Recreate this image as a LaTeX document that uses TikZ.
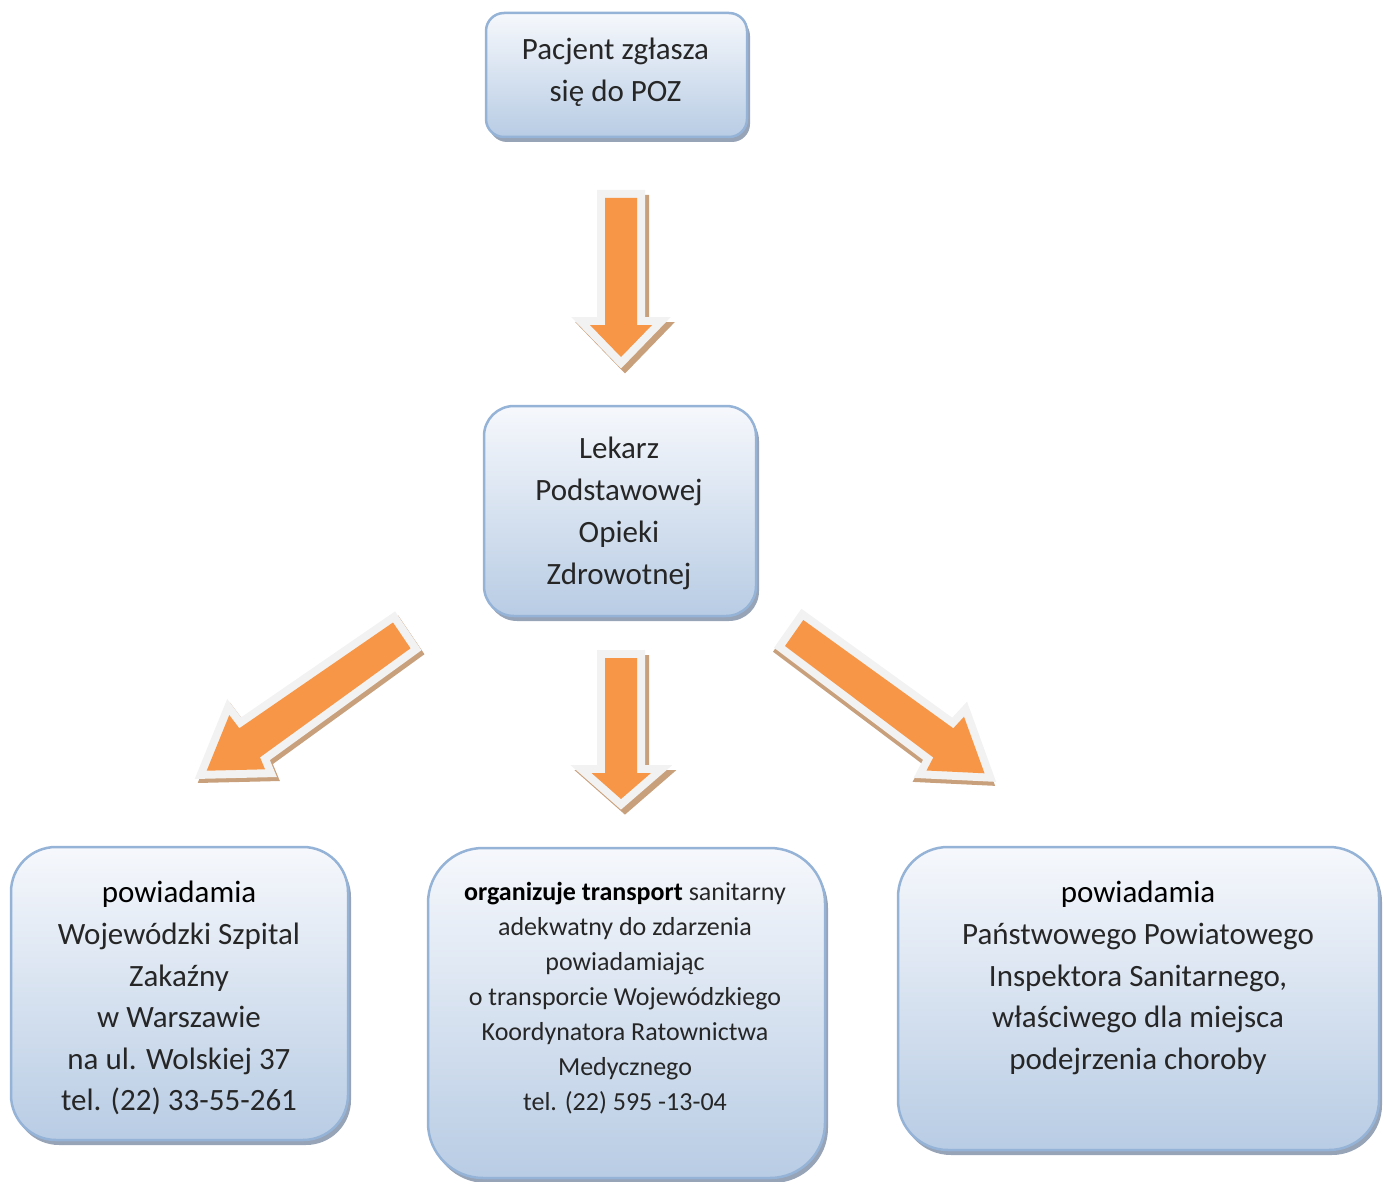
\documentclass[tikz,border=0pt]{standalone}
\usepackage{fontspec}
\setmainfont{Carlito}
\usetikzlibrary{shadows}
\definecolor{boxline}{HTML}{95B3D7}
\definecolor{boxtop}{HTML}{F6F8FC}
\definecolor{boxbot}{HTML}{B8CCE4}
\definecolor{boxshadow}{HTML}{97A3B6}
\definecolor{arrorange}{HTML}{F79646}
\definecolor{arrborder}{HTML}{F2F2F2}
\definecolor{arrshadow}{HTML}{C9A07C}
\definecolor{txtgray}{HTML}{262626}
\tikzset{
  pbox/.style={draw=boxline, line width=2.5pt, top color=boxtop, bottom color=boxbot,
    general shadow={fill=boxshadow, shadow xshift=3pt, shadow yshift=-5pt}},
  bigtxt/.style={anchor=base, inner sep=0pt, text=txtgray, font=\fontsize{31}{42}\selectfont},
  smalltxt/.style={anchor=base, inner sep=0pt, text=txtgray, font=\fontsize{26}{35}\selectfont},
}
\newcommand\blockarrow[2]{%
  \fill[arrshadow, shift={#1}] #2;
  \draw[arrshadow, line width=16pt, line join=miter, shift={#1}] #2;
  \draw[arrborder, line width=16pt, line join=miter] #2;
  \fill[arrorange] #2;}
\begin{document}
\begin{tikzpicture}[x=1pt,y=-1pt]
\useasboundingbox (0,0) rectangle (1389,1182);

% boxes
\node[pbox, rounded corners=18pt, minimum width=261pt, minimum height=124pt] (b0) at (616.5,75) {};
\node[pbox, rounded corners=30pt, minimum width=272pt, minimum height=210pt] (b1) at (620,511) {};
\node[pbox, rounded corners=45pt, minimum width=337pt, minimum height=293pt] (b2) at (179.5,993.5) {};
\node[pbox, rounded corners=55pt, minimum width=397pt, minimum height=330pt] (b3) at (626.5,1013) {};
\node[pbox, rounded corners=50pt, minimum width=481pt, minimum height=303pt] (b4) at (1138.5,998.5) {};

% arrows
\blockarrow{(4,5)}{(605,198) -- (637,198) -- (637,325) -- (652,325) -- (621,357) -- (590,325) -- (605,325) -- cycle}
\blockarrow{(4,5)}{(605,658) -- (637,658) -- (637,773) -- (651,773) -- (621,799) -- (591.5,773) -- (605,773) -- cycle}
\blockarrow{(3,4)}{(393,622.5) -- (410.5,648.3) -- (260,757.3) -- (265,769.3) -- (206.7,770.7) -- (229.3,715) -- (239.3,728.3) -- cycle}
\blockarrow{(-1,4)}{(803.3,620) -- (953.3,728.3) -- (964,716.7) -- (984.5,773.3) -- (926.5,770.5) -- (933.3,757.5) -- (785,646) -- cycle}

% texts top box
\node[bigtxt] (t0a) at (615.5,60) {Pacjent zgłasza};
\node[bigtxt] (t0b) at (615.5,102) {się do POZ};
% middle box
\node[bigtxt] (t1a) at (619,458) {Lekarz};
\node[bigtxt] (t1b) at (619,500) {Podstawowej};
\node[bigtxt] (t1c) at (619,542) {Opieki};
\node[bigtxt] (t1d) at (619,584) {Zdrowotnej};
% left box
\node[bigtxt, text=black] (t2a) at (179,902) {powiadamia};
\node[bigtxt] (t2b) at (179,944) {Wojewódzki Szpital};
\node[bigtxt] (t2c) at (179,986) {Zakaźny};
\node[bigtxt] (t2d) at (179,1027) {w Warszawie};
\node[bigtxt] (t2e) at (179,1069) {na ul. Wolskiej 37};
\node[bigtxt] (t2f) at (179,1110) {tel. (22) 33-55-261};
% middle bottom box
\node[smalltxt] (t3a) at (625,900) {\textcolor{black}{\textbf{organizuje transport}} sanitarny};
\node[smalltxt] (t3b) at (625,935) {adekwatny do zdarzenia};
\node[smalltxt] (t3c) at (625,970) {powiadamiając};
\node[smalltxt] (t3d) at (625,1005) {o transporcie Wojewódzkiego};
\node[smalltxt] (t3e) at (625,1040) {Koordynatora Ratownictwa};
\node[smalltxt] (t3f) at (625,1075) {Medycznego};
\node[smalltxt] (t3g) at (625,1110) {tel. (22) 595 -13-04};
% right box
\node[bigtxt, text=black] (t4a) at (1138,902) {powiadamia};
\node[bigtxt] (t4b) at (1138,944) {Państwowego Powiatowego};
\node[bigtxt] (t4c) at (1138,986) {Inspektora Sanitarnego,};
\node[bigtxt] (t4d) at (1138,1027) {właściwego dla miejsca};
\node[bigtxt] (t4e) at (1138,1069) {podejrzenia choroby};
\end{tikzpicture}
\end{document}
